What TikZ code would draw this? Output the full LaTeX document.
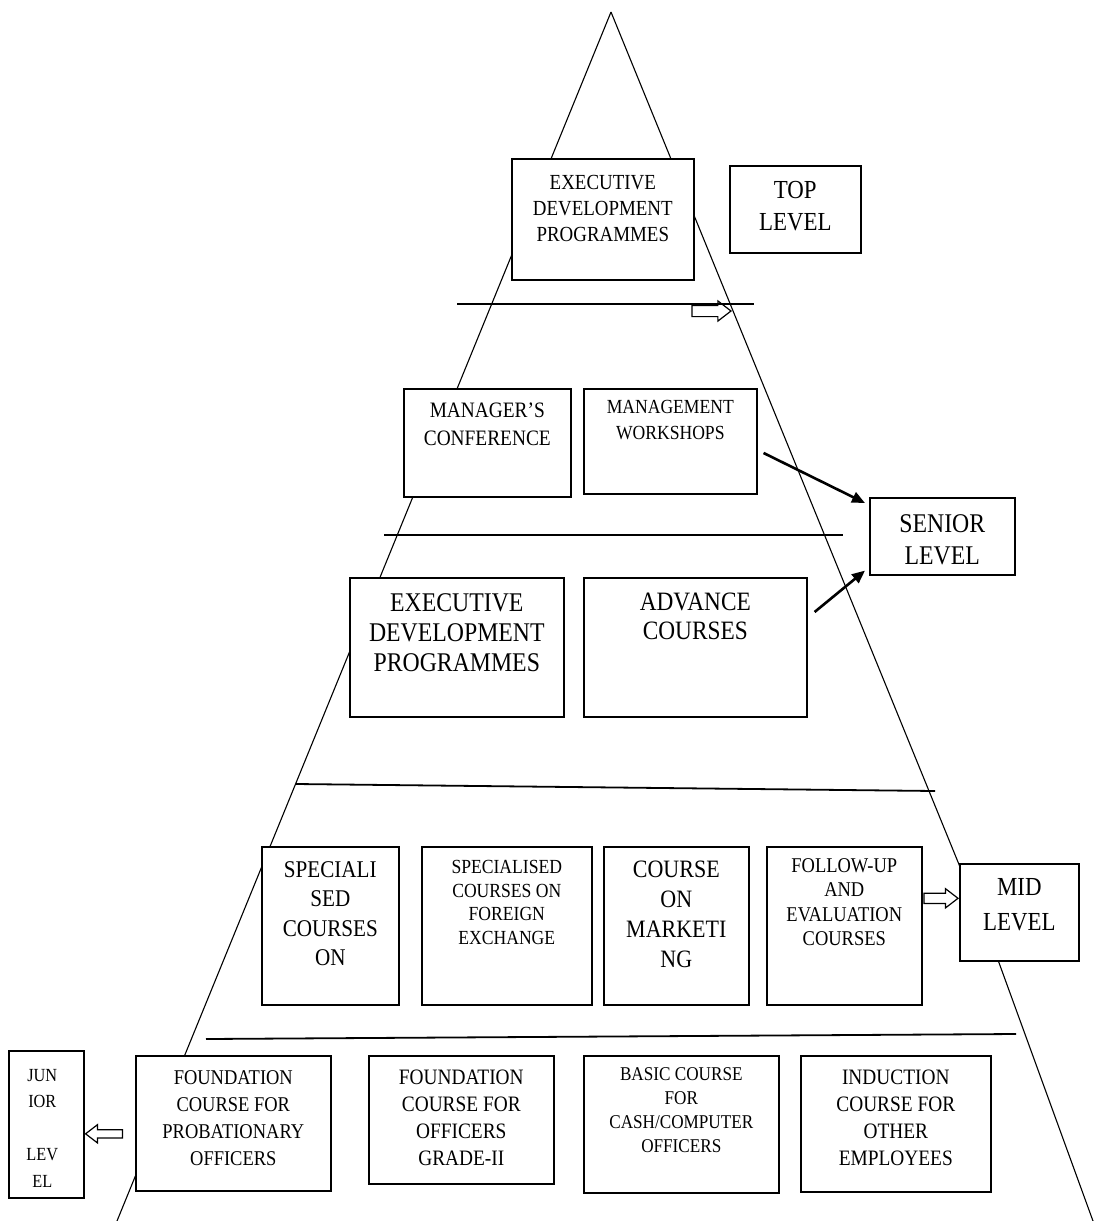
\documentclass[tikz,border=0pt]{standalone}
\usepackage{fontspec}
\setmainfont{Liberation Serif}[FakeStretch=0.88]
\usetikzlibrary{arrows.meta,positioning,calc,shapes.arrows}
\definecolor{ink}{HTML}{000000}
\tikzset{
  >={Triangle[length=13pt,width=11pt]},
  box/.style={draw=ink, fill=white, line width=1.6pt, anchor=north west, inner sep=0pt},
  tx/.style 2 args={align=center, anchor=north, inner sep=0pt, text=ink,
    font=\fontsize{#1}{#2}\selectfont},
  side/.style={draw=ink, line width=1.1pt},
  sep/.style={draw=ink, line width=1.8pt},
  blk/.style={->, draw=ink, line width=2.6pt},
  harrow/.style={single arrow, draw=ink, line width=1.2pt, inner xsep=0pt,
    inner ysep=5pt, single arrow head extend=4.5pt, single arrow tip angle=75,
    anchor=tip},
}

\begin{document}
\begin{tikzpicture}[x=1pt, y=-1pt]
  \path[use as bounding box, fill=white] (0,0) rectangle (1095,1221);

  % ---------------- pyramid ----------------
  \coordinate (apex) at (611,12);
  \coordinate (kink) at (998,960);
  \draw[side] (apex) -- (117,1221);
  \draw[side] (apex) -- (kink) -- (1093,1221);
  \draw[sep] (457,304) -- (754,304);
  \draw[sep] (384,535) -- (843,535);
  \draw[sep] (296,784) -- (935,791);
  \draw[sep] (206,1039) -- (1016,1034);

  % ---------------- top level ----------------
  \node[box, minimum width=182pt, minimum height=121pt] (edptop) at (511,158) {};
  \node[tx={21.5}{26}] (edptop-t) at ($(edptop.north)+(0,17)$)
    {EXECUTIVE\\DEVELOPMENT\\PROGRAMMES};
  \node[box, minimum width=131pt, minimum height=87pt] (top) at (729,165) {};
  \node[tx={26}{32}] (top-t) at ($(top.north)+(0,16)$) {TOP\\LEVEL};
  \node[harrow, minimum height=39pt] (a-top) at (732,311) {};

  % ---------------- senior level ----------------
  \node[box, minimum width=167pt, minimum height=108pt] (mc) at (403,388) {};
  \node[tx={22}{28}] (mc-t) at ($(mc.north)+(0,14.5)$) {MANAGER’S\\CONFERENCE};
  \node[box, minimum width=173pt, minimum height=105pt] (mw) at (583,388) {};
  \node[tx={20}{26}] (mw-t) at ($(mw.north)+(0,12)$) {MANAGEMENT\\WORKSHOPS};
  \node[box, minimum width=214pt, minimum height=139pt] (edp) at (349,577) {};
  \node[tx={27}{30}] (edp-t) at ($(edp.north)+(0,16)$)
    {EXECUTIVE\\DEVELOPMENT\\PROGRAMMES};
  \node[box, minimum width=223pt, minimum height=139pt] (adv) at (583,577) {};
  \node[tx={26.5}{29}] (adv-t) at ($(adv.north)+(0,16)$) {ADVANCE\\COURSES};
  \node[box, minimum width=145pt, minimum height=77pt] (snr) at (869,497) {};
  \node[tx={27}{32}] (snr-t) at ($(snr.north)+(0,17)$) {SENIOR\\LEVEL};
  \draw[blk] ($(mw.north east)+(6,65)$) -- ($(snr.north west)+(-4,6)$);
  \draw[blk] ($(adv.north east)+(7,35)$) -- ($(snr.south west)+(-4,-5)$);

  % ---------------- mid level ----------------
  \node[box, minimum width=137pt, minimum height=158pt] (sp1) at (261,846) {};
  \node[tx={24}{29.5}] (sp1-t) at ($(sp1.north)+(0,15)$) {SPECIALI\\SED\\COURSES\\ON};
  \node[box, minimum width=170pt, minimum height=158pt] (sp2) at (421,846) {};
  \node[tx={20}{23.7}] (sp2-t) at ($(sp2.north)+(0,14)$)
    {SPECIALISED\\COURSES ON\\FOREIGN\\EXCHANGE};
  \node[box, minimum width=145pt, minimum height=158pt] (mkt) at (603,846) {};
  \node[tx={25}{30}] (mkt-t) at ($(mkt.north)+(0,15)$) {COURSE\\ON\\MARKETI\\NG};
  \node[box, minimum width=155pt, minimum height=158pt] (fu) at (766,846) {};
  \node[tx={21}{24.5}] (fu-t) at ($(fu.north)+(0,12)$)
    {FOLLOW-UP\\AND\\EVALUATION\\COURSES};
  \node[box, minimum width=119pt, minimum height=97pt] (mid) at (959,863) {};
  \node[tx={26}{35}] (mid-t) at ($(mid.north)+(0,15)$) {MID\\LEVEL};
  \node[harrow, inner ysep=4.5pt, minimum height=34pt] (a-mid) at ($(mid.west)+(0,-14)$) {};

  % ---------------- junior level ----------------
  \node[box, minimum width=75pt, minimum height=147pt] (jr) at (8,1050) {};
  \node[tx={18.5}{26.5}] (jr-t) at ($(jr.north)+(-4,19)$) {JUN\\IOR\\~\\LEV\\EL};
  \node[box, minimum width=195pt, minimum height=135pt] (fpo) at (135,1055) {};
  \node[tx={21}{27}] (fpo-t) at ($(fpo.north)+(0,15)$)
    {FOUNDATION\\COURSE FOR\\PROBATIONARY\\OFFICERS};
  \node[box, minimum width=185pt, minimum height=128pt] (fog) at (368,1055) {};
  \node[tx={22}{27}] (fog-t) at ($(fog.north)+(0,15)$)
    {FOUNDATION\\COURSE FOR\\OFFICERS\\GRADE-II};
  \node[box, minimum width=195pt, minimum height=137pt] (bcc) at (583,1055) {};
  \node[tx={19.5}{24}] (bcc-t) at ($(bcc.north)+(0,12)$)
    {BASIC COURSE\\FOR\\CASH/COMPUTER\\OFFICERS};
  \node[box, minimum width=190pt, minimum height=136pt] (ind) at (800,1055) {};
  \node[tx={22}{27}] (ind-t) at ($(ind.north)+(0,15)$)
    {INDUCTION\\COURSE FOR\\OTHER\\EMPLOYEES};
  \node[harrow, shape border rotate=180, inner ysep=3.5pt, single arrow head extend=5pt,
    minimum height=37pt] (a-jr) at ($(jr.east)+(0,9.5)$) {};
\end{tikzpicture}
\end{document}
